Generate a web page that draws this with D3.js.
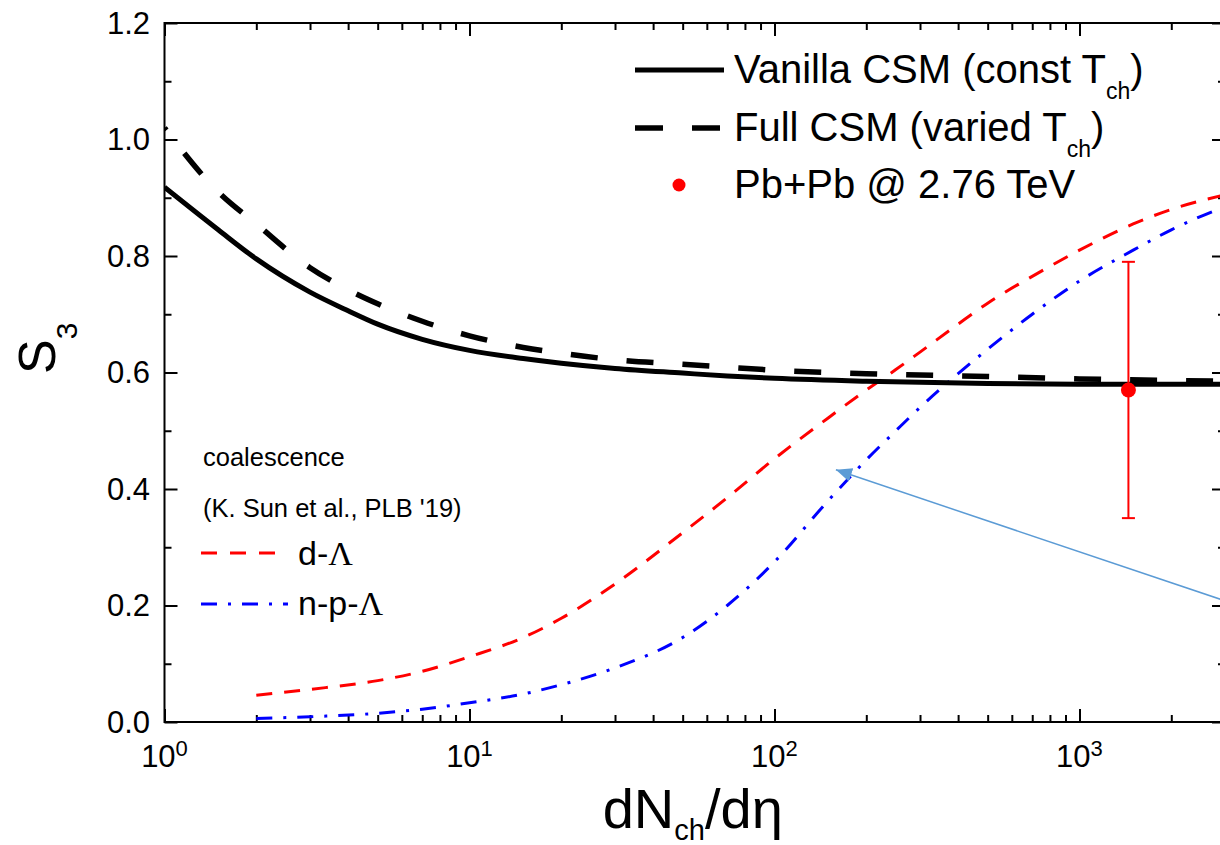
<!DOCTYPE html>
<html>
<head>
<meta charset="utf-8">
<script src="https://cdn.jsdelivr.net/npm/d3@7"></script>
<style>
  html, body { margin: 0; padding: 0; background: #fff; }
  svg { display: block; font-family: "Liberation Sans", Arial, sans-serif; }
</style>
</head>
<body>
<svg id="chart" width="1220" height="845"></svg>
<script>
// Canonical statistical model curves, S3 versus dNch/deta
const dndeta = [1, 1.5, 2, 3, 4, 5, 7, 10, 15, 20, 30, 50, 70, 100, 200, 500, 1000, 3000];
const vanillaS3 = [0.918, 0.845, 0.795, 0.738, 0.706, 0.683, 0.657, 0.638, 0.624, 0.616, 0.607, 0.599, 0.594, 0.590, 0.585, 0.581, 0.580, 0.580];
const fullS3 = [1.02, 0.91, 0.855, 0.780, 0.742, 0.718, 0.688, 0.663, 0.643, 0.633, 0.622, 0.614, 0.609, 0.604, 0.598, 0.593, 0.589, 0.585];

// Coalescence curves (K. Sun et al., PLB '19)
const coalX = [2, 3, 5, 7, 10, 15, 20, 30, 50, 70, 100, 150, 200, 250, 300, 400, 500, 700, 1000, 1500, 2000, 3000];
const dLambdaS3 = [0.046, 0.056, 0.071, 0.087, 0.112, 0.145, 0.178, 0.237, 0.325, 0.385, 0.452, 0.522, 0.570, 0.605, 0.635, 0.683, 0.719, 0.765, 0.810, 0.855, 0.880, 0.905];
const npLambdaS3 = [0.006, 0.009, 0.015, 0.022, 0.033, 0.048, 0.064, 0.093, 0.145, 0.200, 0.275, 0.380, 0.450, 0.500, 0.540, 0.598, 0.640, 0.700, 0.757, 0.810, 0.845, 0.885];

// ALICE Pb+Pb @ 2.76 TeV
const dataX = [1447];
const dataS3 = [0.57];
const dataErr = [0.22];

// Annotation arrow: [dNch/deta, S3] for tail and head
const arrowTail = [3000, 0.208];
const arrowHead = [159, 0.433];

// Axis ticks
const yMajor = [0, 0.2, 0.4, 0.6, 0.8, 1.0, 1.2];
const yMinor = [0.1, 0.3, 0.5, 0.7, 0.9, 1.1];
const xMajor = [1, 10, 100, 1000];
const xExponents = ["0", "1", "2", "3"];
const xMinor = [2, 3, 4, 5, 6, 7, 8, 9, 20, 30, 40, 50, 60, 70, 80, 90, 200, 300, 400, 500, 600, 700, 800, 900, 2000];

const M = { left: 164.5, right: 1225, top: 23, bottom: 722 };
const svg = d3.select("#chart");

const x = d3.scaleLog().domain([1, 3000]).range([M.left, M.right]);
const y = d3.scaleLinear().domain([0, 1.2]).range([M.bottom, M.top]);

svg.append("defs").append("clipPath").attr("id", "plotClip")
  .append("rect").attr("x", M.left).attr("y", M.top)
  .attr("width", M.right - M.left).attr("height", M.bottom - M.top);

// Tick marks, pointing inward on all four sides
function ticks(axisGen, tr, vals, len) {
  const g = svg.append("g").attr("transform", tr)
    .call(axisGen.tickValues(vals).tickSize(len).tickSizeOuter(0).tickFormat(""));
  g.select(".domain").remove();
  g.selectAll(".tick line").attr("stroke", "#000").attr("stroke-width", 2);
  return g;
}
ticks(d3.axisBottom(x), `translate(0,${M.bottom})`, xMajor, -13);
ticks(d3.axisBottom(x), `translate(0,${M.bottom})`, xMinor, -7);
ticks(d3.axisTop(x), `translate(0,${M.top})`, xMajor, -13);
ticks(d3.axisTop(x), `translate(0,${M.top})`, xMinor, -7);
ticks(d3.axisLeft(y), `translate(${M.left},0)`, yMajor, -13);
ticks(d3.axisLeft(y), `translate(${M.left},0)`, yMinor, -7);
ticks(d3.axisRight(y), `translate(${M.right},0)`, yMajor, -13);
ticks(d3.axisRight(y), `translate(${M.right},0)`, yMinor, -7);

// Frame
svg.append("rect").attr("x", M.left).attr("y", M.top)
  .attr("width", M.right - M.left).attr("height", M.bottom - M.top)
  .attr("fill", "none").attr("stroke", "#000").attr("stroke-width", 2);

// Tick labels
svg.append("g").selectAll("text").data(yMajor).join("text")
  .attr("x", 150).attr("y", d => y(d))
  .attr("text-anchor", "end").attr("dominant-baseline", "central")
  .attr("font-size", 31).text(d => d3.format(".1f")(d));

const xl = svg.append("g").selectAll("text").data(xMajor).join("text")
  .attr("x", d => x(d)).attr("y", 767)
  .attr("text-anchor", "middle").attr("font-size", 31);
xl.append("tspan").text("10");
xl.append("tspan").attr("font-size", 22).attr("dy", -11).text((d, i) => xExponents[i]);

// Axis titles
const xt = svg.append("text").attr("x", (M.left + M.right) / 2 - 2).attr("y", 828)
  .attr("text-anchor", "middle").attr("font-size", 56);
xt.append("tspan").text("dN");
xt.append("tspan").attr("font-size", 29).attr("dy", 12).text("ch");
xt.append("tspan").attr("dy", -12).text("/d\u03b7");

const yt = svg.append("text").attr("transform", "translate(55,374) rotate(-90)")
  .attr("font-size", 52);
yt.append("tspan").text("S");
yt.append("tspan").attr("font-size", 30).attr("dy", 22).text("3");

// Curves
const line = d3.line().x(d => x(d[0])).y(d => y(d[1])).curve(d3.curveMonotoneX);
const plot = svg.append("g").attr("clip-path", "url(#plotClip)");

plot.append("path").datum(coalX.map((v, i) => [v, dLambdaS3[i]]))
  .attr("d", line).attr("fill", "none").attr("stroke", "#ff0000")
  .attr("stroke-width", 3).attr("stroke-dasharray", "16,12");
plot.append("path").datum(coalX.map((v, i) => [v, npLambdaS3[i]]))
  .attr("d", line).attr("fill", "none").attr("stroke", "#0000ff")
  .attr("stroke-width", 3).attr("stroke-dasharray", "16,11,3,11");
plot.append("path").datum(dndeta.map((v, i) => [v, vanillaS3[i]]))
  .attr("d", line).attr("fill", "none").attr("stroke", "#000")
  .attr("stroke-width", 5);
plot.append("path").datum(dndeta.map((v, i) => [v, fullS3[i]]))
  .attr("d", line).attr("fill", "none").attr("stroke", "#000")
  .attr("stroke-width", 5.5).attr("stroke-dasharray", "27,29").attr("stroke-dashoffset", 24);

// Data point with error bar
const pts = plot.append("g").selectAll("g").data(dataX).join("g");
pts.append("line")
  .attr("x1", d => x(d)).attr("x2", d => x(d))
  .attr("y1", (d, i) => y(dataS3[i] + dataErr[i])).attr("y2", (d, i) => y(dataS3[i] - dataErr[i]))
  .attr("stroke", "#ff0000").attr("stroke-width", 2);
[1, -1].forEach(s => {
  pts.append("line")
    .attr("x1", d => x(d) - 6.5).attr("x2", d => x(d) + 6.5)
    .attr("y1", (d, i) => y(dataS3[i] + s * dataErr[i])).attr("y2", (d, i) => y(dataS3[i] + s * dataErr[i]))
    .attr("stroke", "#ff0000").attr("stroke-width", 2);
});
pts.append("circle").attr("cx", d => x(d)).attr("cy", (d, i) => y(dataS3[i]))
  .attr("r", 7.5).attr("fill", "#ff0000");

// Annotation arrow
svg.select("defs").append("marker").attr("id", "arrowHead")
  .attr("markerUnits", "userSpaceOnUse").attr("markerWidth", 18).attr("markerHeight", 16)
  .attr("viewBox", "0 -8 18 16").attr("refX", 16).attr("refY", 0).attr("orient", "auto")
  .append("path").attr("d", "M0,-7L16,0L0,7Z").attr("fill", "#5b9bd5");
svg.append("line")
  .attr("x1", x(arrowTail[0])).attr("y1", y(arrowTail[1]))
  .attr("x2", x(arrowHead[0])).attr("y2", y(arrowHead[1]))
  .attr("stroke", "#5b9bd5").attr("stroke-width", 1.5)
  .attr("marker-end", "url(#arrowHead)");

// Upper-right legend
const lg = svg.append("g");
lg.append("line").attr("x1", 635).attr("x2", 724).attr("y1", 70).attr("y2", 70)
  .attr("stroke", "#000").attr("stroke-width", 5);
lg.append("line").attr("x1", 635).attr("x2", 724).attr("y1", 128).attr("y2", 128)
  .attr("stroke", "#000").attr("stroke-width", 5.5).attr("stroke-dasharray", "28,29");
lg.append("circle").attr("cx", 679).attr("cy", 185).attr("r", 6.5).attr("fill", "#ff0000");

function legendText(yb, main, sub, tail) {
  const t = lg.append("text").attr("x", 734).attr("y", yb).attr("font-size", 40);
  t.append("tspan").text(main);
  if (sub) {
    t.append("tspan").attr("font-size", 23).attr("dy", 16).text(sub);
    t.append("tspan").attr("dy", -16).text(tail);
  }
}
legendText(83, "Vanilla CSM (const T", "ch", ")");
legendText(141, "Full CSM (varied T", "ch", ")");
legendText(198, "Pb+Pb @ 2.76 TeV");

// Lower-left legend
const cl = svg.append("g");
cl.append("text").attr("x", 203).attr("y", 466).attr("font-size", 25.5).text("coalescence");
cl.append("text").attr("x", 203).attr("y", 517).attr("font-size", 25.5).text("(K. Sun et al., PLB '19)");
cl.append("line").attr("x1", 201).attr("x2", 277).attr("y1", 553).attr("y2", 553)
  .attr("stroke", "#ff0000").attr("stroke-width", 3).attr("stroke-dasharray", "16,13");
cl.append("line").attr("x1", 201).attr("x2", 288).attr("y1", 604).attr("y2", 604)
  .attr("stroke", "#0000ff").attr("stroke-width", 3).attr("stroke-dasharray", "16,11,3,11");
const d1 = cl.append("text").attr("x", 298).attr("y", 565).attr("font-size", 34);
d1.append("tspan").text("d-");
d1.append("tspan").attr("font-family", "Liberation Serif, serif").text("\u039b");
const d2 = cl.append("text").attr("x", 298).attr("y", 615).attr("font-size", 34);
d2.append("tspan").text("n-p-");
d2.append("tspan").attr("font-family", "Liberation Serif, serif").text("\u039b");
</script>
</body>
</html>
